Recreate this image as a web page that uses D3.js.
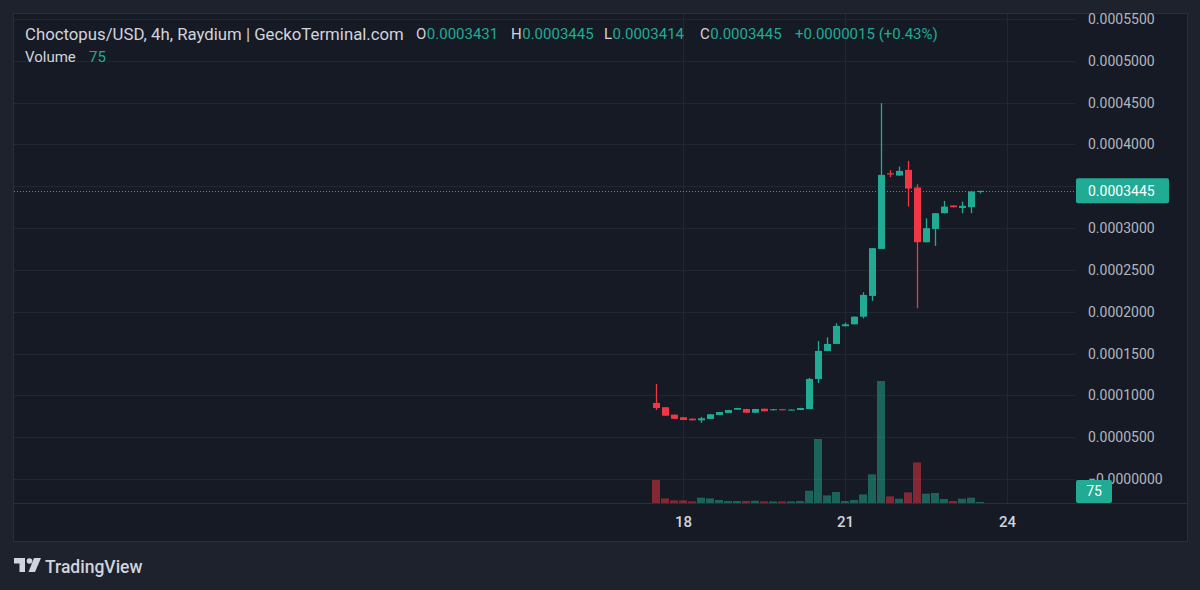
<!DOCTYPE html>
<html><head><meta charset="utf-8">
<script src="https://cdn.jsdelivr.net/npm/d3@7"></script>
<style>
html,body{margin:0;padding:0;background:#1e222d;}
svg{display:block;}
text{font-family:Roboto,"Noto Sans",sans-serif;}
</style></head><body>
<svg id="c" width="1200" height="590"></svg>
<script>
// ---- data ----
const times = [
 "2024-05-17T12:00","2024-05-17T16:00","2024-05-17T20:00",
 "2024-05-18T00:00","2024-05-18T04:00","2024-05-18T08:00","2024-05-18T12:00","2024-05-18T16:00","2024-05-18T20:00",
 "2024-05-19T00:00","2024-05-19T04:00","2024-05-19T08:00","2024-05-19T12:00","2024-05-19T16:00","2024-05-19T20:00",
 "2024-05-20T00:00","2024-05-20T04:00","2024-05-20T08:00","2024-05-20T12:00","2024-05-20T16:00","2024-05-20T20:00",
 "2024-05-21T00:00","2024-05-21T04:00","2024-05-21T08:00","2024-05-21T12:00","2024-05-21T16:00","2024-05-21T20:00",
 "2024-05-22T00:00","2024-05-22T04:00","2024-05-22T08:00","2024-05-22T12:00","2024-05-22T16:00","2024-05-22T20:00",
 "2024-05-23T00:00","2024-05-23T04:00","2024-05-23T08:00","2024-05-23T12:00"
];
const opens  = [0.0000909,0.0000858,0.0000769,0.0000738,0.0000721,0.0000702,0.0000718,0.0000766,0.0000790,0.0000829,
                0.0000837,0.0000793,0.0000840,0.0000822,0.0000834,0.0000826,0.0000825,0.0000837,0.0001196,0.0001531,
                0.0001615,0.0001827,0.0001850,0.0001941,0.0002189,0.0002751,0.0003655,0.0003628,0.0003696,0.0003485,
                0.0002831,0.0002990,0.0003178,0.0003270,0.0003241,0.0003250,0.0003431];
const highs  = [0.0001136,0.0000860,0.0000772,0.0000740,0.0000723,0.0000742,0.0000776,0.0000803,0.0000827,0.0000851,
                0.0000839,0.0000839,0.0000842,0.0000836,0.0000836,0.0000832,0.0000851,0.0001210,0.0001650,0.0001695,
                0.0001862,0.0001870,0.0001943,0.0002233,0.0002762,0.0004494,0.0003692,0.0003736,0.0003804,0.0003525,
                0.0003118,0.0003180,0.0003325,0.0003272,0.0003317,0.0003445,0.0003445];
const lows   = [0.0000825,0.0000755,0.0000718,0.0000704,0.0000700,0.0000672,0.0000716,0.0000764,0.0000788,0.0000827,
                0.0000791,0.0000791,0.0000808,0.0000820,0.0000820,0.0000824,0.0000823,0.0000835,0.0001148,0.0001529,
                0.0001613,0.0001825,0.0001848,0.0001920,0.0002130,0.0002749,0.0003609,0.0003626,0.0003257,0.0002042,
                0.0002829,0.0002787,0.0003176,0.0003248,0.0003178,0.0003178,0.0003414];
const closes = [0.0000849,0.0000757,0.0000720,0.0000706,0.0000702,0.0000726,0.0000774,0.0000801,0.0000825,0.0000849,
                0.0000793,0.0000837,0.0000810,0.0000834,0.0000822,0.0000830,0.0000849,0.0001196,0.0001531,0.0001615,
                0.0001830,0.0001850,0.0001941,0.0002201,0.0002760,0.0003636,0.0003640,0.0003684,0.0003473,0.0002831,
                0.0002999,0.0003178,0.0003257,0.0003250,0.0003266,0.0003437,0.0003445];
const volumes = [1725,345,195,195,120,400,345,225,150,150,
                 150,170,120,120,120,120,150,920,4800,570,
                 825,150,225,645,2145,9150,495,320,795,3045,
                 700,750,300,150,320,400,75];
const priceTicks = [0,0.00005,0.0001,0.00015,0.0002,0.00025,0.0003,0.00035,0.0004,0.00045,0.0005,0.00055];
const priceTickLabels = ["\u22120.0000000","0.0000500","0.0001000","0.0001500","0.0002000","0.0002500",
                         "0.0003000","0.0003500","0.0004000","0.0004500","0.0005000","0.0005500"];
const timeTicks = ["2024-05-18T00:00","2024-05-21T00:00","2024-05-24T00:00"];
const timeTickLabels = ["18","21","24"];
const lastPrice = 0.0003445, lastPriceLabel = "0.0003445";
const lastVolumeLabel = "75";
const headerTitle = "Choctopus/USD, 4h, Raydium | GeckoTerminal.com";
const ohlcLetters = ["O","H","L","C"];
const ohlcValues = ["0.0003431","0.0003445","0.0003414","0.0003445"];
const changeText = "+0.0000015 (+0.43%)";

// ---- styling / layout ----
const UP = "#22ab94", DOWN = "#f23645";
const paneL = 14, paneR = 1075, paneT = 14, paneB = 503, frameR = 1187, frameB = 541;
const parse = d3.timeParse("%Y-%m-%dT%H:%M");
const data = times.map((t,i)=>({t:parse(t),o:opens[i],h:highs[i],l:lows[i],c:closes[i],v:volumes[i]}));

const svg = d3.select("#c");
svg.append("rect").attr("width",1200).attr("height",590).attr("fill","#1e222d");
svg.append("rect").attr("x",paneL).attr("y",paneT).attr("width",frameR-paneL).attr("height",frameB-paneT)
   .attr("fill","#161a25");

const x = d3.scaleTime().domain([parse(timeTicks[0]), parse(timeTicks[1])]).range([683,845]);
const y = d3.scaleLinear().domain([0,0.00055]).range([479,19]);
const yv = d3.scaleLinear().domain([0,d3.max(volumes)]).range([paneB,381]);

// grid
const grid = svg.append("g");
grid.selectAll("line.h").data(priceTicks).join("line")
  .attr("x1",paneL).attr("x2",paneR).attr("y1",d=>Math.round(y(d))+0.5).attr("y2",d=>Math.round(y(d))+0.5)
  .attr("stroke","#232632");
grid.selectAll("line.v").data(timeTicks).join("line")
  .attr("x1",d=>Math.round(x(parse(d)))+0.5).attr("x2",d=>Math.round(x(parse(d)))+0.5)
  .attr("y1",paneT).attr("y2",paneB).attr("stroke","#232632");

svg.append("clipPath").attr("id","pane").append("rect")
  .attr("x",paneL).attr("y",paneT).attr("width",paneR-paneL).attr("height",paneB-paneT);
const pane = svg.append("g").attr("clip-path","url(#pane)");

// volume
const vbw = 8;
pane.append("g").selectAll("rect").data(data).join("rect")
  .attr("x",d=>Math.round(x(d.t)-vbw/2)).attr("width",vbw)
  .attr("y",d=>yv(d.v)).attr("height",d=>Math.max(1,paneB-yv(d.v)))
  .attr("fill",d=>d.c>=d.o?UP:DOWN).attr("fill-opacity",0.5);

// price line
pane.append("line").attr("x1",paneL).attr("x2",paneR)
  .attr("y1",Math.round(y(lastPrice))+0.5).attr("y2",Math.round(y(lastPrice))+0.5)
  .attr("stroke",UP).attr("stroke-dasharray","1,2").attr("stroke-width",1);

// candles
const cw = 7;
const cg = pane.append("g");
cg.selectAll("line").data(data).join("line")
  .attr("x1",d=>Math.round(x(d.t))+0.5).attr("x2",d=>Math.round(x(d.t))+0.5)
  .attr("y1",d=>y(d.h)).attr("y2",d=>y(d.l))
  .attr("stroke",d=>d.c>=d.o?UP:DOWN).attr("stroke-width",1.3);
cg.selectAll("rect").data(data).join("rect")
  .attr("x",d=>Math.round(x(d.t))-3).attr("width",cw)
  .attr("y",d=>y(Math.max(d.o,d.c))).attr("height",d=>Math.max(1,Math.abs(y(d.o)-y(d.c))))
  .attr("fill",d=>d.c>=d.o?UP:DOWN);

// frame lines
const fr = svg.append("g").attr("fill","none").attr("stroke","#2a2e39");
fr.append("rect").attr("x",paneL-0.5).attr("y",paneT-0.5).attr("width",frameR-paneL+1).attr("height",frameB-paneT+1);
fr.append("line").attr("x1",paneL).attr("x2",frameR).attr("y1",paneB+0.5).attr("y2",paneB+0.5);

// price axis (labels hidden under the last-price badge, as TradingView does)
const ly = y(lastPrice);
const ya = svg.append("g").attr("transform",`translate(${paneR},0)`)
  .call(d3.axisRight(y).tickValues(priceTicks.filter(d=>Math.abs(y(d)-ly)>14))
        .tickFormat(d=>priceTickLabels[priceTicks.indexOf(d)]).tickSize(0).tickPadding(13));
ya.select(".domain").remove();
ya.selectAll("text").attr("fill","#b2b5be").attr("font-size",14).attr("font-family","Roboto, sans-serif");

// time axis
const xa = svg.append("g").attr("transform",`translate(0,${paneB})`)
  .call(d3.axisBottom(x).tickValues(timeTicks.map(parse)).tickFormat((d,i)=>timeTickLabels[i]).tickSize(0).tickPadding(13));
xa.select(".domain").remove();
xa.selectAll("text").attr("fill","#d1d4dc").attr("font-size",15).attr("font-weight",500).attr("font-family","Roboto, sans-serif");

// last price label
svg.append("rect").attr("x",1076).attr("y",ly-12.5).attr("width",93).attr("height",25).attr("rx",2).attr("fill",UP);
svg.append("text").attr("x",1088).attr("y",ly).attr("dy","0.35em").attr("fill","#ffffff")
  .attr("font-size",14).text(lastPriceLabel);

// volume label
svg.append("rect").attr("x",1076).attr("y",480).attr("width",36).attr("height",23).attr("rx",2).attr("fill",UP);
svg.append("text").attr("x",1094).attr("y",491.5).attr("dy","0.35em").attr("text-anchor","middle")
  .attr("fill","#ffffff").attr("font-size",14).text(lastVolumeLabel);

// header
const hdr = svg.append("g").attr("font-size",15);
const title = hdr.append("text").attr("x",25).attr("y",34).attr("dy","0.35em").attr("fill","#d1d4dc")
  .attr("font-family","'Open Sans', sans-serif").text(headerTitle);
const tw = title.node().getComputedTextLength();
title.attr("font-size", 15*379/tw);
const letterX = [416,511,604,700];
ohlcLetters.forEach((l,i)=>{
  const lt = hdr.append("text").attr("x",letterX[i]).attr("y",34).attr("dy","0.35em").attr("fill","#d1d4dc").text(l);
  const lw = lt.node().getComputedTextLength();
  hdr.append("text").attr("x",letterX[i]+lw+0.5).attr("y",34).attr("dy","0.35em").attr("fill",UP).text(ohlcValues[i]);
});
hdr.append("text").attr("x",795).attr("y",34).attr("dy","0.35em").attr("fill",UP).text(changeText);
hdr.append("text").attr("x",25).attr("y",57).attr("dy","0.35em").attr("fill","#d1d4dc").text("Volume");
hdr.append("text").attr("x",89).attr("y",57).attr("dy","0.35em").attr("fill",UP).text(lastVolumeLabel);

// TradingView logo
const logo = svg.append("g").attr("fill","#d1d4dc");
logo.append("path").attr("d","M14 558h11v14h-5.5v-8.5H14z");
logo.append("circle").attr("cx",29.5).attr("cy",561).attr("r",2.8);
logo.append("path").attr("d","M34 558h7l-6 14h-6.5z");
logo.append("text").attr("x",45).attr("y",573).attr("font-size",17.5).attr("font-weight",500).text("TradingView");
</script>
</body></html>
